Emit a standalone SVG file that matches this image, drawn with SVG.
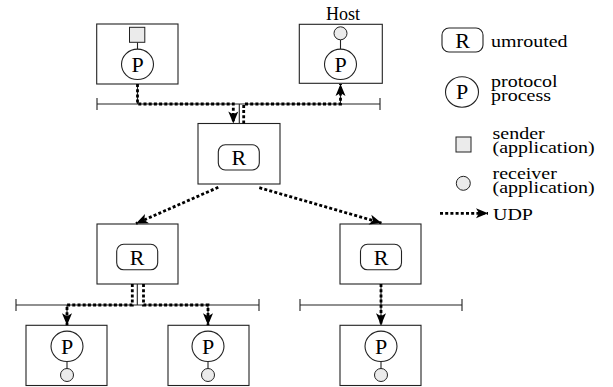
<svg xmlns="http://www.w3.org/2000/svg" width="613" height="387" viewBox="0 0 613 387">
<defs>
<marker id="ah" markerUnits="userSpaceOnUse" markerWidth="16" markerHeight="14" refX="12" refY="5" orient="auto" overflow="visible">
<path d="M0,0 L12,5 L0,10 L3,5 Z" fill="#000"/>
</marker>
<style>
.box{fill:#fff;stroke:#222;stroke-width:1.1}
.rr{fill:#fff;stroke:#222;stroke-width:1.1}
.pc{fill:#fff;stroke:#222;stroke-width:1.1}
.app{fill:#ebebeb;stroke:#222;stroke-width:1}
.thin{fill:none;stroke:#222;stroke-width:1.1}
.udp{fill:none;stroke:#000;stroke-width:2.8;stroke-dasharray:3 2.2}
.arr{marker-end:url(#ah)}
.big{font-size:22px;text-anchor:middle;fill:#000}
.lbl{font-size:20px;fill:#000}
</style>
</defs>
<rect width="613" height="387" fill="#fff"/>

<g id="buses">
<path class="thin" d="M97,104 H380 M97,98 V110 M380,98 V110"/>
<path class="thin" d="M16,305 H259 M16,299 V311 M259,299 V311"/>
<path class="thin" d="M300,305 H462 M300,299 V311 M462,299 V311"/>
<path class="thin" d="M137.5,84 V104 M340.5,84 V104 M239.3,104 V123.5 M137.3,284 V305 M67,305 V325 M208,305 V325 M381,284 V325"/>
</g>

<g font-family="Liberation Serif, Times New Roman, serif">
<g id="host-sender">
<rect class="box" x="96.7" y="24" width="81.3" height="60"/>
<path class="thin" d="M137.5,42.3 V49"/>
<rect class="app" x="129.5" y="27.3" width="15.3" height="15"/>
<ellipse class="pc" cx="137.5" cy="64.3" rx="16" ry="15.2"/>
<text class="big" x="137.5" y="71.8" font-family="Liberation Serif, serif">P</text>
</g>

<g id="host-receiver-top">
<text font-family="Liberation Serif, serif" font-size="18" x="343" y="20" text-anchor="middle">Host</text>
<rect class="box" x="299.3" y="24.3" width="83" height="59"/>
<path class="thin" d="M340.5,39.8 V49"/>
<circle class="app" cx="340.5" cy="33.3" r="6.5"/>
<ellipse class="pc" cx="340.5" cy="64.3" rx="16" ry="15.2"/>
<text class="big" x="340.5" y="71.8" font-family="Liberation Serif, serif">P</text>
</g>

<g id="router-mid">
<rect class="box" x="198" y="123.5" width="82" height="60.5"/>
<rect class="rr" x="218.3" y="144.8" width="41" height="25.2" rx="7"/>
<text class="big" x="238.8" y="164.8" font-family="Liberation Serif, serif">R</text>
</g>

<g id="router-left">
<rect class="box" x="97" y="224" width="81" height="60"/>
<rect class="rr" x="116.7" y="244.3" width="41" height="25.5" rx="7"/>
<text class="big" x="137.2" y="264.6" font-family="Liberation Serif, serif">R</text>
</g>

<g id="router-right">
<rect class="box" x="340" y="224" width="81" height="60"/>
<rect class="rr" x="360.5" y="244.3" width="41" height="25.5" rx="7"/>
<text class="big" x="381" y="264.6" font-family="Liberation Serif, serif">R</text>
</g>

<g id="host-bl">
<rect class="box" x="26" y="325.3" width="81" height="60.2"/>
<path class="thin" d="M67,361.5 V368.5"/>
<ellipse class="pc" cx="67" cy="346.3" rx="16" ry="15.2"/>
<text class="big" x="67" y="353.8" font-family="Liberation Serif, serif">P</text>
<circle class="app" cx="67" cy="375" r="6.5"/>
</g>

<g id="host-bm">
<rect class="box" x="168" y="325.3" width="81" height="60.2"/>
<path class="thin" d="M208,361.5 V368.5"/>
<ellipse class="pc" cx="208" cy="346.3" rx="16" ry="15.2"/>
<text class="big" x="208" y="353.8" font-family="Liberation Serif, serif">P</text>
<circle class="app" cx="208" cy="375" r="6.5"/>
</g>

<g id="host-br">
<rect class="box" x="340" y="325.3" width="81" height="60.2"/>
<path class="thin" d="M381,361.5 V368.5"/>
<ellipse class="pc" cx="381" cy="346.3" rx="16" ry="15.2"/>
<text class="big" x="381" y="353.8" font-family="Liberation Serif, serif">P</text>
<circle class="app" cx="381" cy="375" r="6.5"/>
</g>
</g>

<g id="connectors">
<path class="udp arr" d="M137.5,84 V104 H233.3 V123.5"/>
<path class="udp arr" d="M243.7,123.5 V104 H340.5 V84"/>
<path class="udp arr" d="M218.3,187.3 L136,223.5"/>
<path class="udp arr" d="M259.3,187.7 L381.5,223"/>
<path class="udp arr" d="M132.3,284 V305 H67 V325.3"/>
<path class="udp arr" d="M143.5,284 V305 H208 V325.3"/>
<path class="udp arr" d="M381,284 V325.3"/>
</g>

<g id="legend" font-family="Liberation Serif, serif">
<rect class="rr" x="442" y="28" width="41" height="24" rx="7"/>
<text class="big" x="462.5" y="47.5" font-size="20" font-family="Liberation Serif, serif">R</text>
<text class="lbl" font-family="Liberation Serif, serif" transform="translate(491,47) scale(1,0.88)">umrouted</text>
<ellipse class="pc" cx="462" cy="92" rx="16.5" ry="15.2"/>
<text class="big" x="462" y="99" font-size="20" font-family="Liberation Serif, serif">P</text>
<text class="lbl" font-family="Liberation Serif, serif" transform="translate(491,87) scale(1,0.88)">protocol</text>
<text class="lbl" font-family="Liberation Serif, serif" transform="translate(491,101) scale(1,0.88)">process</text>
<rect class="app" x="456" y="137" width="15" height="15"/>
<text class="lbl" font-family="Liberation Serif, serif" transform="translate(492.5,138.5) scale(1,0.88)">sender</text>
<text class="lbl" font-family="Liberation Serif, serif" transform="translate(492.5,152.5) scale(1,0.88)">(application)</text>
<circle class="app" cx="463.3" cy="183.3" r="7"/>
<text class="lbl" font-family="Liberation Serif, serif" transform="translate(492.5,178.5) scale(1,0.88)">receiver</text>
<text class="lbl" font-family="Liberation Serif, serif" transform="translate(492.5,192.5) scale(1,0.88)">(application)</text>
<path class="udp arr" d="M440,213.3 H488"/>
<text class="lbl" font-family="Liberation Serif, serif" transform="translate(493,220) scale(1,0.88)">UDP</text>
</g>
</svg>
